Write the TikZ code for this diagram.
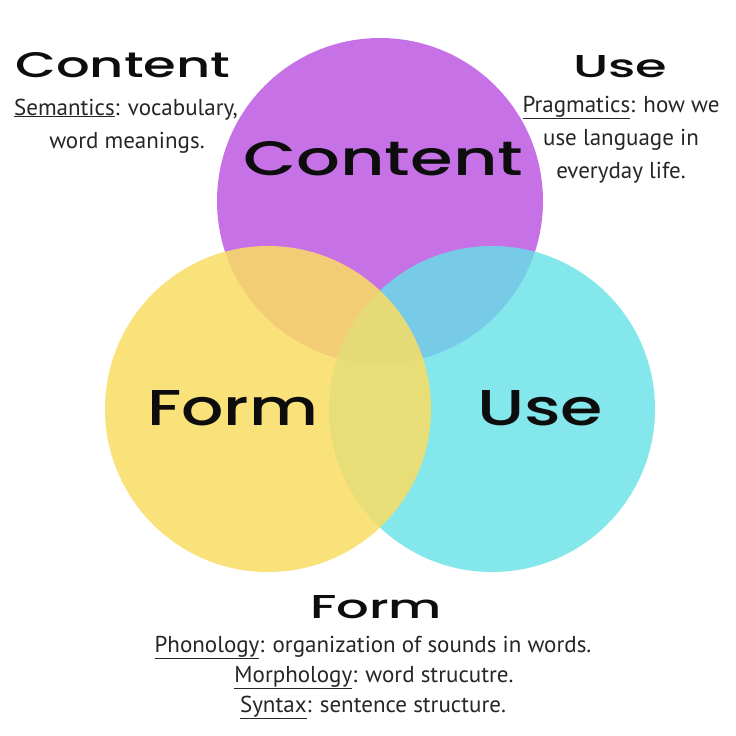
\documentclass[tikz,border=0pt]{standalone}
\usepackage{fontspec}
\setmainfont{PT Sans}
\newfontfamily\headfont{Poppins Medium}
\definecolor{cpurple}{HTML}{C672E6}
\definecolor{cyellow}{RGB}{250,221,99}
\definecolor{ccyan}{RGB}{101,226,231}
\tikzset{
  venn/.style={circle, minimum size=326pt, inner sep=0pt},
  biglabel/.style={font=\headfont, text=black!95, inner sep=0pt, anchor=base west},
  hand/.style={font=\fontsize{23}{28}\selectfont, inner sep=0pt, anchor=base, text=black!85}
}
\begin{document}
\begin{tikzpicture}[x=1pt,y=-1pt]
\useasboundingbox[fill=white] (0,0) rectangle (736,736);
\node[venn, fill=cpurple] (cc) at (380,201) {};
\node[venn, fill=ccyan, fill opacity=0.8] (uc) at (492,409) {};
\node[venn, fill=cyellow, fill opacity=0.85] (fc) at (268,409) {};
% labels inside circles
\node[biglabel] (lcontent) at (243,175) {\resizebox{280pt}{34pt}{Content}};
\node[biglabel] (lform) at (147,425) {\resizebox{171pt}{35pt}{Form}};
\node[biglabel] (luse) at (477,425) {\resizebox{126pt}{35pt}{Use}};
% headings
\node[biglabel] (hcontent) at (15,77) {\resizebox{215pt}{25pt}{Content}};
\node[biglabel] (huse) at (573,77) {\resizebox{94pt}{22pt}{Use}};
\node[biglabel] (hform) at (310,618) {\resizebox{132pt}{23pt}{Form}};
% descriptions
\node[hand] (dc1) at (126,115) {\underline{Semantics}: vocabulary,};
\node[hand] (dc2) at (127,148) {word meanings.};
\node[hand] (du1) at (621,112) {\underline{Pragmatics}: how we};
\node[hand] (du2) at (621,145) {use language in};
\node[hand] (du3) at (621,178) {everyday life.};
\node[hand] (df1) at (373,652) {\underline{Phonology}: organization of sounds in words.};
\node[hand] (df2) at (374,682) {\underline{Morphology}: word strucutre.};
\node[hand] (df3) at (373,712) {\underline{Syntax}: sentence structure.};
\end{tikzpicture}
\end{document}
